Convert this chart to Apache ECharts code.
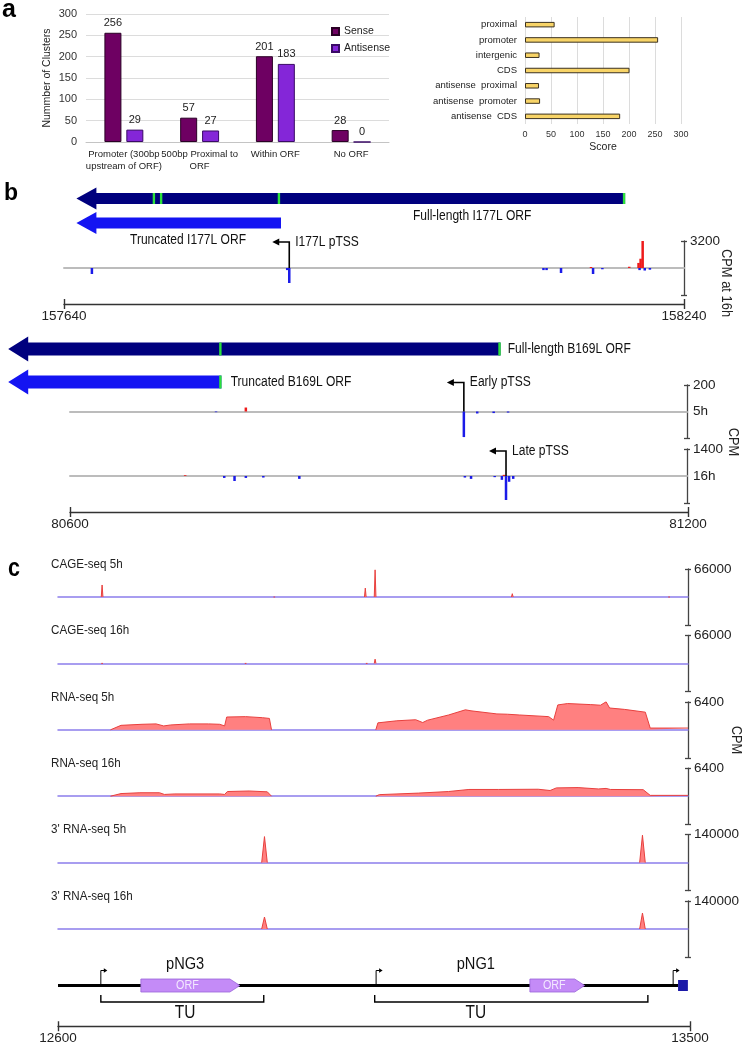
<!DOCTYPE html>
<html><head><meta charset="utf-8">
<script src="https://cdn.jsdelivr.net/npm/echarts@6/dist/echarts.min.js"></script>
<style>html,body{margin:0;padding:0;background:#fff}#chart{width:742px;height:1043px}</style>
</head><body><div id="chart"></div>
<script>
// ================= DATA =================
// panel a (left)
const clusterCategories = ['Promoter (300bp\nupstream of ORF)', '500bp Proximal to\nORF', 'Within ORF', 'No ORF'];
const senseCounts = [256, 57, 201, 28];
const antisenseCounts = [29, 27, 183, 0];
const clusterAxis = [0, 300, 50];
// panel a (right)
const scoreCategories = ['proximal', 'promoter', 'intergenic', 'CDS', 'antisense  proximal', 'antisense  promoter', 'antisense  CDS'];
const scoreValues = [57, 256, 28, 201, 27, 29, 183];
const scoreAxis = [0, 300, 50];

// panel b (top) I177L
const i177lRange = [157640, 158240];
const i177lRows = ['full', 'truncated'];
const i177lOrfs = [[157652, 158183, 0], [157652, 157850, 1]];
const i177lStartCodons = [[157727, 0], [157734, 0], [157848, 0], [158182, 0]];
const i177lOrfLabels = ['Full-length I177L ORF', 'Truncated I177L ORF'];
const i177lOrfLabelPos = [[158035, 0], [157760, 1]];
const i177lTss = [[157858, 0]];
const i177lTssLabels = ['I177L pTSS'];
const i177lCpmMax = 3200;
const i177lCpm16h = [[157667, -710], [157856, -250], [157858, -1780], [158104, -250], [158107, -250],
  [158121, -590], [158150, 120], [158152, -710], [158161, -150], [158187, 150], [158196, 600],
  [158198, 1100], [158200, 3200], [158197, -250], [158202, -300], [158207, -200]];

// panel b (bottom) B169L
const b169lRange = [80600, 81200];
const b169lRows = ['full', 'truncated'];
const b169lOrfs = [[80540, 81018, 0], [80540, 80747, 1]];
const b169lStartCodons = [[80746, 0], [81017, 0], [80746, 1]];
const b169lOrfLabels = ['Full-length B169L ORF', 'Truncated B169L ORF'];
const b169lOrfLabelPos = [[81025, 0], [80756, 1]];
const b169lEarlyTss = [[80983, 0]];
const b169lLateTss = [[81024, 0]];
const b169lCpmMax = [200, 1400];
const b169lCpm5h = [[80742, -5], [80771, 30], [80983, -193], [80996, -15], [81012, -12], [81026, -8]];
const b169lCpm16h = [[80712, 40], [80750, -100], [80760, -260], [80771, -100], [80788, -80], [80823, -150],
  [80984, -80], [80990, -150], [81013, -60], [81020, -200], [81022, 60], [81024, -1245], [81027, -300], [81031, -150]];

// panel c
const cRange = [12600, 13500];
const trackNames = ['CAGE-seq 5h', 'CAGE-seq 16h', 'RNA-seq 5h', 'RNA-seq 16h', "3' RNA-seq 5h", "3' RNA-seq 16h"];
const trackMax = [66000, 66000, 6400, 6400, 140000, 140000];
const cage5hPeaks = [[12663, 28300], [12909, 2000], [13039, 21000], [13053, 64000], [13249, 7800], [13473, 2000]];
const cage16hPeaks = [[12663, 1500], [12868, 1000], [13041, 3000], [13053, 10000]];
const rna5hPlus = [[12675, 0], [12690, 1020], [12720, 1260], [12740, 1350], [12751, 880], [12761, 1110], [12788, 1350],
  [12815, 1350], [12831, 1260], [12838, 880], [12841, 2920], [12868, 3010], [12892, 2770], [12902, 2600], [12905, 0], null,
  [13054, 0], [13057, 1590], [13084, 2060], [13111, 2300], [13121, 1660], [13128, 2200], [13158, 3390], [13182, 4570],
  [13190, 4340], [13227, 3630], [13242, 3560], [13259, 3390], [13301, 3010], [13308, 2200], [13314, 5690], [13328, 6000],
  [13361, 5760], [13375, 5620], [13383, 6400], [13388, 4980], [13409, 4670], [13439, 4030], [13446, 400], [13500, 400]];
const rna5hMinus = [[12838, 0], [12842, -300], [12900, -300], [12905, 0], null, [13308, 0], [13314, -250], [13440, -250], [13446, 0]];
const rna16hPlus = [[12675, 0], [12690, 600], [12717, 790], [12745, 790], [12752, 400], [12767, 520], [12831, 520],
  [12838, 400], [12842, 1070], [12873, 1190], [12899, 1000], [12905, 0], null,
  [13054, 0], [13059, 360], [13115, 710], [13158, 1070], [13187, 1540], [13229, 1540], [13286, 1590], [13303, 1300],
  [13312, 1900], [13343, 1970], [13372, 1660], [13383, 1780], [13389, 1540], [13436, 1490], [13446, 190], [13500, 190]];
const threePrime5hPeaks = [[12895, 130000], [13435, 137000]];
const threePrime16hPeaks = [[12895, 60000], [13435, 80000]];

// gene diagram
const geneLine = [[12600, 13483]];
const endBlock = [[13483, 13497]];
const tssMarks = [[12661], [13053], [13476]];
const orfBlocks = [[12718, 12859], [13272, 13350]];
const transcriptionUnits = [[12661, 12893], [13051, 13440]];
const geneLabels = ['pNG3', 'pNG1'];
const geneLabelPos = [[12781], [13195]];

// ================= BUILD =================
const FONT = "'Liberation Sans', Arial, Helvetica, sans-serif";
const NARROW = "'Liberation Sans Narrow', 'Arial Narrow', 'Liberation Sans', Arial, sans-serif";
const SQUEEZE = 0.86;   // horizontal squeeze to mimic a narrow typeface
const grids = [], xAxes = [], yAxes = [], series = [], graphic = [];
const addGrid = g => (grids.push(g), grids.length - 1);
const addX = a => (xAxes.push(a), xAxes.length - 1);
const addY = a => (yAxes.push(a), yAxes.length - 1);

// ---- panel a left ----
{
  const g = addGrid({left: 86, top: 14, width: 303, height: 128});
  const xi = addX({gridIndex: g, type: 'category', data: clusterCategories,
    axisTick: {show: false}, axisLine: {lineStyle: {color: '#c4c4c4'}},
    axisLabel: {interval: 0, fontSize: 9.5, lineHeight: 12, color: '#222', margin: 6, fontFamily: FONT}});
  const yi = addY({gridIndex: g, type: 'value', min: clusterAxis[0], max: clusterAxis[1], interval: clusterAxis[2],
    axisLine: {show: false}, axisTick: {show: false},
    axisLabel: {fontSize: 11, color: '#333', margin: 9, fontFamily: FONT},
    splitLine: {lineStyle: {color: '#dcdcdc'}},
    name: 'Nummber of Clusters', nameLocation: 'middle', nameGap: 33,
    nameTextStyle: {fontSize: 10.5, color: '#222', fontFamily: FONT}});
  const lab = {show: true, position: 'top', distance: 4, fontSize: 11, fontFamily: FONT, color: '#222'};
  series.push({name: 'Sense', type: 'bar', xAxisIndex: xi, yAxisIndex: yi, data: senseCounts, barWidth: 17, barGap: '29%',
    itemStyle: {color: '#6E0062', borderColor: '#2a0025', borderWidth: 1}, label: lab});
  series.push({name: 'Antisense', type: 'bar', xAxisIndex: xi, yAxisIndex: yi, data: antisenseCounts, barWidth: 17, barGap: '29%',
    itemStyle: {color: '#8426D8', borderColor: '#3a0a66', borderWidth: 1}, label: lab});
}
// ---- panel a right ----
{
  const g = addGrid({left: 525, top: 17, width: 156, height: 107});
  const xi = addX({gridIndex: g, type: 'value', min: scoreAxis[0], max: scoreAxis[1], interval: scoreAxis[2],
    axisLine: {show: false}, axisTick: {show: false},
    axisLabel: {fontSize: 9, color: '#333', margin: 6, fontFamily: FONT},
    splitLine: {lineStyle: {color: '#dcdcdc'}},
    name: 'Score', nameLocation: 'middle', nameGap: 18, nameTextStyle: {fontSize: 10.5, color: '#222', fontFamily: FONT}});
  const yi = addY({gridIndex: g, type: 'category', data: scoreCategories, inverse: true,
    axisLine: {show: false}, axisTick: {show: false},
    axisLabel: {fontSize: 9.5, color: '#222', margin: 8, fontFamily: FONT}});
  series.push({type: 'bar', xAxisIndex: xi, yAxisIndex: yi, data: scoreValues, barWidth: 5.5,
    itemStyle: {color: '#F8D467', borderColor: '#3b3120', borderWidth: 1}});
}

// ---- helpers for b / c ----
function rightAxis(g, max, zeroLabel) {
  return {gridIndex: g, type: 'value', position: 'right', min: -max, max: max,
    axisLine: {show: true, lineStyle: {color: '#444', width: 1.3}},
    axisTick: {show: true, customValues: [-max, max], length: 3, lineStyle: {color: '#444', width: 1.3}},
    axisLabel: {show: true, customValues: zeroLabel ? [0, max] : [max],
      formatter: v => (v === 0 ? zeroLabel : String(v)), fontSize: 13.5, fontFamily: NARROW, color: '#222', margin: 6},
    splitLine: {show: false}};
}
function rightAxisTwin(g, max) {
  return {gridIndex: g, type: 'value', position: 'right', min: -max, max: max,
    axisLine: {show: false}, axisLabel: {show: false}, splitLine: {show: false},
    axisTick: {show: true, inside: true, customValues: [-max, max], length: 3, lineStyle: {color: '#444', width: 1.3}}};
}
function genomicAxis(left, y, width, range) {
  const g = addGrid({left: left, top: y - 1, width: width, height: 1});
  const tick = {show: true, customValues: range, length: 5, lineStyle: {color: '#333', width: 1.4}};
  addX({gridIndex: g, type: 'value', position: 'bottom', min: range[0], max: range[1],
    axisLine: {onZero: false, lineStyle: {color: '#333', width: 1.4}}, axisTick: tick,
    axisLabel: {customValues: range, formatter: v => String(v), fontSize: 13.5, fontFamily: NARROW, color: '#222', margin: 5},
    splitLine: {show: false}});
  addX({gridIndex: g, type: 'value', position: 'top', min: range[0], max: range[1],
    axisLine: {show: false}, axisTick: tick, axisLabel: {show: false}, splitLine: {show: false}});
  addY({gridIndex: g, type: 'value', show: false, min: 0, max: 1});
}
function trackGrid(left, top, width, height, range, max, zeroLabel, baseColor, baseWidth) {
  const g = addGrid({left, top, width, height});
  const xi = addX({gridIndex: g, type: 'value', min: range[0], max: range[1],
    axisLine: {onZero: true, lineStyle: {color: baseColor, width: baseWidth}},
    axisTick: {show: false}, axisLabel: {show: false}, splitLine: {show: false}});
  const yi = addY(rightAxis(g, max, zeroLabel));
  addY(rightAxisTwin(g, max));
  return [xi, yi];
}
function orfGrid(left, top, width, height, range, rows) {
  const g = addGrid({left, top, width, height});
  const xi = addX({gridIndex: g, type: 'value', min: range[0], max: range[1], show: false});
  const yi = addY({gridIndex: g, type: 'category', data: rows, inverse: true, show: false});
  return [xi, yi];
}
function orfArrows(ax, data, colors, bodyH, headH, headLen) {
  series.push({type: 'custom', xAxisIndex: ax[0], yAxisIndex: ax[1], data, encode: {x: [0, 1], y: 2}, silent: true, z: 3,
    renderItem(params, api) {
      const row = api.value(2);
      const p0 = api.coord([api.value(0), row]), p1 = api.coord([api.value(1), row]);
      const cy = p0[1], tx = p0[0], ex = p1[0], hx = tx + headLen;
      return {type: 'polygon', shape: {points: [[tx, cy], [hx, cy - headH / 2], [hx, cy - bodyH / 2], [ex, cy - bodyH / 2],
        [ex, cy + bodyH / 2], [hx, cy + bodyH / 2], [hx, cy + headH / 2]]}, style: {fill: colors[row]}};
    }});
}
function startMarks(ax, data, bodyH) {
  series.push({type: 'custom', xAxisIndex: ax[0], yAxisIndex: ax[1], data, encode: {x: 0, y: 1}, silent: true, z: 4,
    renderItem(params, api) {
      const p = api.coord([api.value(0), api.value(1)]);
      return {type: 'rect', shape: {x: p[0] - 1.2, y: p[1] - bodyH / 2, width: 2.4, height: bodyH}, style: {fill: '#2BE03A'}};
    }});
}
function orfLabels(ax, data, texts, align, dy) {
  series.push({type: 'custom', xAxisIndex: ax[0], yAxisIndex: ax[1], data, encode: {x: 0, y: 1}, silent: true, z: 4,
    renderItem(params, api) {
      const p = api.coord([api.value(0), api.value(1)]);
      return {type: 'text', x: p[0], y: p[1] + dy, scaleX: SQUEEZE, style: {text: texts[params.dataIndex], fill: '#111',
        font: '14px ' + NARROW, align: align, verticalAlign: 'middle'}};
    }});
}
function tssArrows(ax, data, texts, rise) {
  series.push({type: 'custom', xAxisIndex: ax[0], yAxisIndex: ax[1], data, encode: {x: 0, y: 1}, silent: true, z: 5,
    renderItem(params, api) {
      const p = api.coord([api.value(0), api.value(1)]);
      const x = p[0], y0 = p[1], y1 = y0 - rise;
      return {type: 'group', children: [
        {type: 'polyline', shape: {points: [[x, y0], [x, y1], [x - 11, y1]]}, style: {stroke: '#000', lineWidth: 1.6, fill: null}},
        {type: 'polygon', shape: {points: [[x - 17, y1], [x - 10, y1 - 3.5], [x - 10, y1 + 3.5]]}, style: {fill: '#000'}},
        {type: 'text', x: x + 6, y: y1, scaleX: SQUEEZE, style: {text: texts[params.dataIndex], font: '14px ' + NARROW, fill: '#111',
          align: 'left', verticalAlign: 'middle'}}]};
    }});
}
function cpmBars(ax, data) {
  series.push({type: 'bar', xAxisIndex: ax[0], yAxisIndex: ax[1], data, barWidth: 2.5, silent: true, z: 3,
    itemStyle: {color: p => (p.value[1] >= 0 ? '#EE1B1B' : '#1B1BE8')}});
}
function withGaps(points) {
  const out = []; let last = 0;
  points.forEach(p => { if (p === null) out.push([last, '-']); else { out.push(p); last = p[0]; } });
  return out;
}
function peakShape(peaks, halfWidth) {
  const out = [];
  peaks.forEach((pk, i) => { if (i) out.push(null); out.push([pk[0] - halfWidth, 0], [pk[0], pk[1]], [pk[0] + halfWidth, 0]); });
  return out;
}

// ---- panel b top ----
{
  const arrowAx = orfGrid(64, 186.25, 620, 49, i177lRange, i177lRows);
  orfArrows(arrowAx, i177lOrfs, ['#00007E', '#1414F2'], 11, 22, 20);
  startMarks(arrowAx, i177lStartCodons, 11);
  orfLabels(arrowAx, i177lOrfLabelPos, i177lOrfLabels, 'center', 17.5);
  const tr = trackGrid(64, 241, 620, 54, i177lRange, i177lCpmMax, null, '#bcbcbc', 2);
  cpmBars(tr, i177lCpm16h);
  tssArrows(tr, i177lTss, i177lTssLabels, 26);
  genomicAxis(64, 304, 620, i177lRange);
}
// ---- panel b bottom ----
{
  const arrowAx = orfGrid(70, 332.5, 618, 66, b169lRange, b169lRows);
  orfArrows(arrowAx, b169lOrfs, ['#00007E', '#1414F2'], 13, 25, 20);
  startMarks(arrowAx, b169lStartCodons, 13);
  orfLabels(arrowAx, b169lOrfLabelPos, b169lOrfLabels, 'left', 0);
  const t5 = trackGrid(70, 385, 617, 53, b169lRange, b169lCpmMax[0], '5h', '#bcbcbc', 2);
  cpmBars(t5, b169lCpm5h);
  tssArrows(t5, b169lEarlyTss, ['Early pTSS'], 29);
  const t16 = trackGrid(70, 449, 617, 54, b169lRange, b169lCpmMax[1], '16h', '#bcbcbc', 2);
  cpmBars(t16, b169lCpm16h);
  tssArrows(t16, b169lLateTss, ['Late pTSS'], 25);
  genomicAxis(70, 512, 618, b169lRange);
}
// ---- panel c tracks ----
{
  const plus = [peakShape(cage5hPeaks, 1.2), peakShape(cage16hPeaks, 1.2), rna5hPlus, rna16hPlus,
    peakShape(threePrime5hPeaks, 4), peakShape(threePrime16hPeaks, 4)];
  trackNames.forEach((name, i) => {
    const top = 569 + 66.4 * i;
    const ax = trackGrid(58, top, 630, 56, cRange, trackMax[i], null, '#8C7DEB', 1.5);
    if (i === 2) {
      series.push({type: 'line', xAxisIndex: ax[0], yAxisIndex: ax[1], data: withGaps(rna5hMinus), symbol: 'none', silent: true,
        lineStyle: {width: 0}, areaStyle: {color: '#A99DF3', opacity: 1}, z: 2});
    }
    series.push({type: 'line', xAxisIndex: ax[0], yAxisIndex: ax[1], data: withGaps(plus[i]), symbol: 'none', silent: true,
      lineStyle: {color: '#E8403E', width: 1}, areaStyle: {color: '#FF8080', opacity: 1}, z: 3});
    graphic.push({type: 'text', x: 51, y: top - 5, scaleX: SQUEEZE, style: {text: name, font: '13.5px ' + NARROW, fill: '#222',
      align: 'left', verticalAlign: 'middle'}});
  });
}
// ---- gene diagram ----
{
  const g = addGrid({left: 58, top: 955, width: 632, height: 60});
  const xi = addX({gridIndex: g, type: 'value', min: cRange[0], max: cRange[1], show: false});
  const yi = addY({gridIndex: g, type: 'value', min: 0, max: 1, show: false});
  const lineOff = 30.5;
  const base = {type: 'custom', xAxisIndex: xi, yAxisIndex: yi, silent: true, encode: {x: [0, 1]}};
  series.push(Object.assign({}, base, {data: geneLine, z: 3, renderItem(params, api) {
    const y = params.coordSys.y + lineOff;
    const a = api.coord([api.value(0), 0])[0], b = api.coord([api.value(1), 0])[0];
    return {type: 'line', shape: {x1: a, y1: y, x2: b, y2: y}, style: {stroke: '#000', lineWidth: 3}};
  }}));
  series.push(Object.assign({}, base, {data: endBlock, z: 4, renderItem(params, api) {
    const y = params.coordSys.y + lineOff;
    const a = api.coord([api.value(0), 0])[0], b = api.coord([api.value(1), 0])[0];
    return {type: 'rect', shape: {x: a, y: y - 5.5, width: b - a, height: 11}, style: {fill: '#1B19A8'}};
  }}));
  series.push(Object.assign({}, base, {data: orfBlocks, z: 5, renderItem(params, api) {
    const y = params.coordSys.y + lineOff;
    const a = api.coord([api.value(0), 0])[0], b = api.coord([api.value(1), 0])[0];
    const h = 6.5, head = 10;
    return {type: 'group', children: [
      {type: 'polygon', shape: {points: [[a, y - h], [b - head, y - h], [b, y], [b - head, y + h], [a, y + h]]},
        style: {fill: '#C48BF7', stroke: '#9A66D9', lineWidth: 0.8}},
      {type: 'text', x: (a + b - head) / 2 + 2, y: y + 0.5, scaleX: SQUEEZE, style: {text: 'ORF', font: '12.5px ' + NARROW, fill: '#F3E9FF',
        align: 'center', verticalAlign: 'middle'}}]};
  }}));
  series.push(Object.assign({}, base, {data: tssMarks, encode: {x: 0}, z: 5, renderItem(params, api) {
    const y = params.coordSys.y + lineOff;
    const x = api.coord([api.value(0), 0])[0], t = y - 15;
    return {type: 'group', children: [
      {type: 'polyline', shape: {points: [[x, y], [x, t], [x + 3.5, t]]}, style: {stroke: '#000', lineWidth: 1, fill: null}},
      {type: 'polygon', shape: {points: [[x + 6.5, t], [x + 3, t - 2.2], [x + 3, t + 2.2]]}, style: {fill: '#000'}}]};
  }}));
  series.push(Object.assign({}, base, {data: transcriptionUnits, z: 5, renderItem(params, api) {
    const y = params.coordSys.y + lineOff;
    const a = api.coord([api.value(0), 0])[0], b = api.coord([api.value(1), 0])[0];
    return {type: 'polyline', shape: {points: [[a, y + 9.5], [a, y + 16.5], [b, y + 16.5], [b, y + 9.5]]},
      style: {stroke: '#000', lineWidth: 1.4, fill: null}};
  }}));
  series.push(Object.assign({}, base, {data: geneLabelPos, encode: {x: 0}, z: 5, renderItem(params, api) {
    const y = params.coordSys.y + lineOff;
    const x = api.coord([api.value(0), 0])[0];
    return {type: 'group', children: [
      {type: 'text', x: x, y: y - 21, scaleX: SQUEEZE, style: {text: geneLabels[params.dataIndex], font: '17px ' + NARROW, fill: '#111',
        align: 'center', verticalAlign: 'middle'}},
      {type: 'text', x: x, y: y + 28, scaleX: SQUEEZE, style: {text: 'TU', font: '18px ' + NARROW, fill: '#111',
        align: 'center', verticalAlign: 'middle'}}]};
  }}));
  genomicAxis(58, 1027, 632, cRange);
}

// ---- panel letters and side titles ----
graphic.push({type: 'text', x: 2, y: 10, style: {text: 'a', font: 'bold 25px ' + FONT, fill: '#000', align: 'left', verticalAlign: 'middle'}});
graphic.push({type: 'text', x: 4, y: 194, style: {text: 'b', font: 'bold 23px ' + FONT, fill: '#000', align: 'left', verticalAlign: 'middle'}});
graphic.push({type: 'text', x: 8, y: 569, scaleX: SQUEEZE, style: {text: 'c', font: 'bold 25px ' + NARROW, fill: '#000', align: 'left', verticalAlign: 'middle'}});
graphic.push({type: 'text', x: 726, y: 283, rotation: -Math.PI / 2, scaleX: SQUEEZE, style: {text: 'CPM at 16h', font: '15px ' + NARROW, fill: '#222', align: 'center', verticalAlign: 'middle'}});
graphic.push({type: 'text', x: 733, y: 442, rotation: -Math.PI / 2, scaleX: SQUEEZE, style: {text: 'CPM', font: '15px ' + NARROW, fill: '#222', align: 'center', verticalAlign: 'middle'}});
graphic.push({type: 'text', x: 736, y: 740, rotation: -Math.PI / 2, scaleX: SQUEEZE, style: {text: 'CPM', font: '15px ' + NARROW, fill: '#222', align: 'center', verticalAlign: 'middle'}});

const chart = echarts.init(document.getElementById('chart'), null, {renderer: 'canvas'});
chart.setOption({
  animation: false,
  backgroundColor: '#fff',
  grid: grids, xAxis: xAxes, yAxis: yAxes, series: series, graphic: graphic,
  legend: {data: ['Sense', 'Antisense'], orient: 'vertical', left: 326, top: 21, itemWidth: 7, itemHeight: 7, itemGap: 6,
    icon: 'rect', textStyle: {fontSize: 10.5, fontFamily: FONT, color: '#222'}}
});
</script></body></html>
